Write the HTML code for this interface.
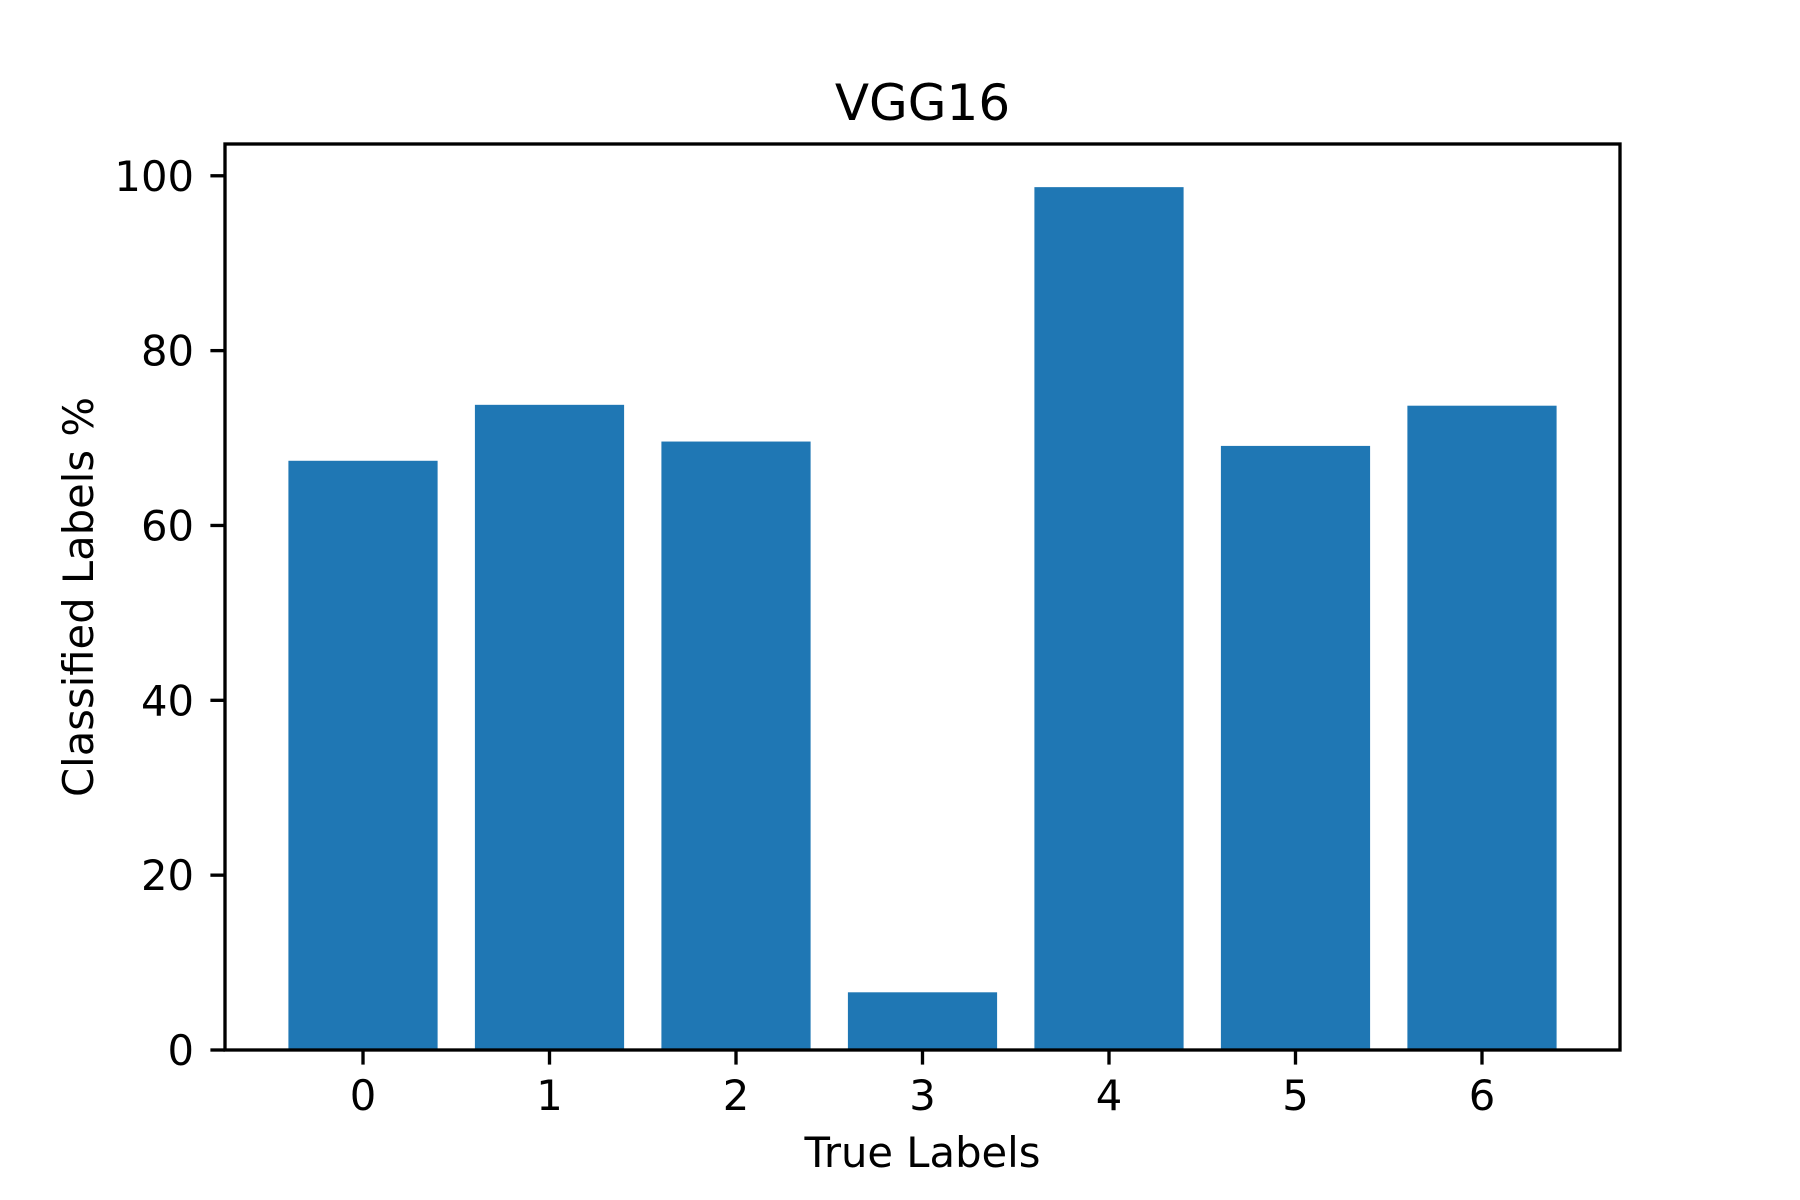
<!DOCTYPE html>
<html><head><meta charset="utf-8"><style>html,body{margin:0;padding:0;background:#fff}svg{display:block}</style></head>
<body>
<svg id="chart" width="1800" height="1200" viewBox="0 0 1800 1200" xmlns="http://www.w3.org/2000/svg" font-family="'DejaVu Sans','Liberation Sans',sans-serif">
<rect width="1800" height="1200" fill="#fff"/>
<text x="922.5" y="120" font-size="50" text-anchor="middle">VGG16</text>
<g id="bars"></g>
<g id="xticks"></g>
<g id="yticks"></g>
<rect x="225" y="144" width="1395" height="906" fill="none" stroke="#000" stroke-width="3.33"/>
<text x="922.5" y="1167" font-size="41.7" text-anchor="middle">True Labels</text>
<text transform="translate(93,597) rotate(-90)" font-size="41.7" text-anchor="middle">Classified Labels %</text>
</svg>
<script>
const categories = ["0","1","2","3","4","5","6"];
const values = [67.4, 73.8, 69.6, 6.6, 98.7, 69.1, 73.7];
const yTicks = [0, 20, 40, 60, 80, 100];

const NS = "http://www.w3.org/2000/svg";
const L = 225, R = 1620, T = 144, B = 1050;
const barW = 0.8;
const xmin = -barW/2 - 0.05*(categories.length - 1 + barW);
const xmax = categories.length - 1 + barW/2 + 0.05*(categories.length - 1 + barW);
const ymax = Math.max(...values) * 1.05;
const xs = v => L + (v - xmin) / (xmax - xmin) * (R - L);
const ys = v => B - v / ymax * (B - T);

const gb = document.getElementById('bars');
const gx = document.getElementById('xticks');
const gy = document.getElementById('yticks');

categories.forEach((c, i) => {
  const r = document.createElementNS(NS, 'rect');
  r.setAttribute('x', xs(i - barW/2));
  r.setAttribute('width', xs(i + barW/2) - xs(i - barW/2));
  r.setAttribute('y', ys(values[i]));
  r.setAttribute('height', ys(0) - ys(values[i]));
  r.setAttribute('fill', '#1f77b4');
  
  
  gb.appendChild(r);

  const t = document.createElementNS(NS, 'line');
  t.setAttribute('x1', xs(i)); t.setAttribute('x2', xs(i));
  t.setAttribute('y1', B); t.setAttribute('y2', B + 14.6);
  t.setAttribute('stroke', '#000'); t.setAttribute('stroke-width', '3.33');
  
  
  gx.appendChild(t);

  const lb = document.createElementNS(NS, 'text');
  lb.setAttribute('x', xs(i)); lb.setAttribute('y', 1110);
  lb.setAttribute('font-size', '41.7'); lb.setAttribute('text-anchor', 'middle');
  lb.textContent = c;
  
  
  gx.appendChild(lb);
});

yTicks.forEach(v => {
  const t = document.createElementNS(NS, 'line');
  t.setAttribute('x1', L - 14.6); t.setAttribute('x2', L);
  t.setAttribute('y1', ys(v)); t.setAttribute('y2', ys(v));
  t.setAttribute('stroke', '#000'); t.setAttribute('stroke-width', '3.33');
  
  
  gy.appendChild(t);

  const lb = document.createElementNS(NS, 'text');
  lb.setAttribute('x', L - 31); lb.setAttribute('y', ys(v) + 15);
  lb.setAttribute('font-size', '41.7'); lb.setAttribute('text-anchor', 'end');
  lb.textContent = v;
  
  
  gy.appendChild(lb);
});
</script>
</body></html>
